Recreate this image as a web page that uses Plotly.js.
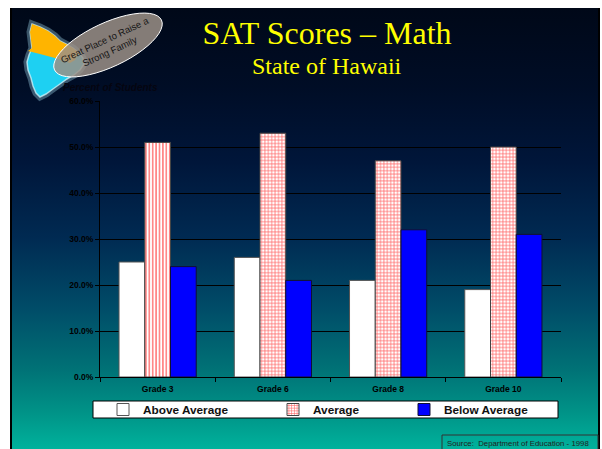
<!DOCTYPE html>
<html>
<head>
<meta charset="utf-8">
<script src="https://cdn.plot.ly/plotly-3.0.1.min.js"></script>
<style>
  html, body { margin:0; padding:0; background:#ffffff; width:602px; height:449px; overflow:hidden; }
  #slide { position:absolute; left:10px; top:8px; width:590px; height:441px; box-sizing:border-box;
    border-left:2px solid #000; border-right:2px solid #000;
    background: linear-gradient(to bottom, #000818 0%, #000d26 18%, #00163a 35%, #002a52 52%, #004c68 68%, #007276 82%, #009488 92%, #00b29c 100%); }
  #chart { position:absolute; left:0; top:0; width:602px; height:449px; }
</style>
</head>
<body>
<div id="slide"></div>
<div id="chart"></div>
<script>
// ---- data ----
const categories = ["Grade 3", "Grade 6", "Grade 8", "Grade 10"];
const aboveAverage = [25, 26, 21, 19];
const average = [51, 53, 47, 50];
const belowAverage = [24, 21, 32, 31];
const seriesNames = ["Above Average", "Average", "Below Average"];
const averagePatterns = ["|", "+", "+", "+"];
const yTickValues = [0, 10, 20, 30, 40, 50, 60];

// ---- layout helpers (pixel -> paper) ----
const L = 100, R = 561, T = 101, B = 377;
const W = 602, H = 449;
const px = x => (x - L) / (R - L);
const py = y => (B - y) / (B - T);
function path(pts) {
  return pts.map((p, i) => (i ? "L" : "M") + px(p[0]).toFixed(4) + "," + py(p[1]).toFixed(4)).join(" ") + " Z";
}
function ellipse(cx, cy, a, b, deg) {
  const th = deg * Math.PI / 180, pts = [];
  for (let i = 0; i < 48; i++) {
    const t = i / 48 * 2 * Math.PI;
    pts.push([cx + a * Math.cos(t) * Math.cos(th) - b * Math.sin(t) * Math.sin(th),
              cy - (a * Math.cos(t) * Math.sin(th) + b * Math.sin(t) * Math.cos(th))]);
  }
  return path(pts);
}

const island = [[32,24],[40,27],[48,31],[55,36],[60,41],[66,44],[73,48],[79,53],[83,58],[84,64],[80,70],[74,75],[67,79],[60,84],[53,89],[46,94],[40,97],[36,93],[33,86],[31,78],[28,70],[27,62],[29,55],[32,48],[31,40],[30,32]];
const islandTop = [[32,24],[40,27],[48,31],[55,36],[60,41],[66,44],[73,48],[79,53],[75,60],[70,63],[55,58],[40,54],[28,51],[32,48],[31,40],[30,32]];

const sansB = "Liberation Sans, Arial, sans-serif";

const traces = [
  { type: "bar", name: seriesNames[0], x: categories, y: aboveAverage, offsetgroup: "a", legend: "legend",
    marker: { color: "#ffffff", line: { color: "#555555", width: 1 } }, hoverinfo: "skip" },
  { type: "bar", name: seriesNames[1], x: categories, y: average, offsetgroup: "b", showlegend: false,
    marker: { color: "#ffffff", line: { color: "#444444", width: 1 },
      pattern: { shape: averagePatterns, fgcolor: "#ff6a6a", bgcolor: "#ffffff", size: 3.4, solidity: 0.4 } }, hoverinfo: "skip" },
  { type: "bar", name: seriesNames[2], x: categories, y: belowAverage, offsetgroup: "c", legend: "legend3",
    marker: { color: "#0000ff", line: { color: "#111133", width: 1 } }, hoverinfo: "skip" },
  // legend entry for Average (grid pattern), shares the Average slot, no values drawn
  { type: "bar", name: seriesNames[1], x: categories, y: average.map(() => null), offsetgroup: "b", legend: "legend2",
    marker: { color: "#ffffff", line: { color: "#444444", width: 1 },
      pattern: { shape: "+", fgcolor: "#ff6a6a", bgcolor: "#ffffff", size: 3.4, solidity: 0.4 } }, hoverinfo: "skip" }
];

const legendCommon = { orientation: "h", xanchor: "left", yanchor: "middle", bgcolor: "rgba(0,0,0,0)", borderwidth: 0,
  font: { family: sansB, size: 11.8, color: "#111111", weight: "bold" } };

const layout = {
  width: W, height: H,
  margin: { l: L, r: W - R, t: T, b: H - B, pad: 0 },
  paper_bgcolor: "rgba(0,0,0,0)",
  plot_bgcolor: "rgba(0,0,0,0)",
  barmode: "group", bargap: 0.33, bargroupgap: 0,
  title: { text: "SAT Scores – Math", x: 327 / W, xanchor: "center", y: 1 - 33 / H, yanchor: "middle",
    font: { family: "Liberation Serif, Times New Roman, serif", size: 32, color: "#ffff00" } },
  xaxis: { type: "category", showline: true, linecolor: "#000", linewidth: 1, showgrid: false,
    ticks: "outside", tickson: "boundaries", ticklen: 4, tickcolor: "#000", ticklabelstandoff: 4,
    tickfont: { family: sansB, size: 8.5, color: "#000", weight: "bold" }, fixedrange: true },
  yaxis: { range: [0, 60], tickvals: yTickValues, ticktext: yTickValues.map(v => v.toFixed(1) + "%"),
    showline: true, linecolor: "#000", linewidth: 1, showgrid: true, gridcolor: "#000", gridwidth: 1,
    zeroline: false, ticks: "outside", ticklen: 4, tickcolor: "#000",
    tickfont: { family: sansB, size: 8.5, color: "#000", weight: "bold" }, fixedrange: true },
  legend: Object.assign({}, legendCommon, { x: px(103), y: py(409.5) }),
  legend2: Object.assign({}, legendCommon, { x: px(273), y: py(409.5) }),
  legend3: Object.assign({}, legendCommon, { x: px(404), y: py(409.5) }),
  shapes: [
    // legend box
    { type: "rect", xref: "paper", yref: "paper", x0: px(93), x1: px(558), y0: py(418), y1: py(401),
      fillcolor: "#ffffff", line: { color: "#000", width: 1 }, layer: "above" },
    // source box
    { type: "rect", xref: "paper", yref: "paper", x0: px(442), x1: px(598), y0: py(450), y1: py(435),
      fillcolor: "rgba(0,0,0,0)", line: { color: "#333", width: 1 }, layer: "above" },
    // logo: island glow + fills
    { type: "path", xref: "paper", yref: "paper", path: path(island), fillcolor: "rgba(180,235,250,0.35)",
      line: { color: "rgba(170,230,250,0.35)", width: 7 }, layer: "above" },
    { type: "path", xref: "paper", yref: "paper", path: path(island), fillcolor: "#1ed0f2",
      line: { color: "rgba(220,250,255,0.7)", width: 1.5 }, layer: "above" },
    { type: "path", xref: "paper", yref: "paper", path: path(islandTop), fillcolor: "#ffb400",
      line: { width: 0 }, layer: "above" },
    // logo ellipse
    { type: "path", xref: "paper", yref: "paper", path: ellipse(108, 45, 59, 22, 25), fillcolor: "rgba(155,145,135,0.85)",
      line: { color: "#ffffff", width: 1 }, layer: "above" }
  ],
  annotations: [
    { text: "State of Hawaii", xref: "paper", yref: "paper", x: px(327), y: py(66), xanchor: "center", yanchor: "middle",
      showarrow: false, font: { family: "Liberation Serif, Times New Roman, serif", size: 24, color: "#ffff00" } },
    { text: "Great Place to Raise a<br>Strong Family", xref: "paper", yref: "paper", x: px(107), y: py(45),
      xanchor: "center", yanchor: "middle", showarrow: false, textangle: -25,
      font: { family: sansB, size: 9.5, color: "#151515" } },
    { text: "Percent of Students", xref: "paper", yref: "paper", x: px(61), y: py(87), xanchor: "left", yanchor: "middle",
      showarrow: false, font: { family: sansB, size: 10, color: "#050510", weight: "bold", style: "italic" } },
    { text: "Source:  Department of Education - 1998", xref: "paper", yref: "paper", x: px(445), y: py(443),
      xanchor: "left", yanchor: "middle", showarrow: false,
      font: { family: sansB, size: 7.8, color: "#222222" } }
  ]
};

Plotly.newPlot("chart", traces, layout, { displayModeBar: false, staticPlot: true });
</script>
</body>
</html>
